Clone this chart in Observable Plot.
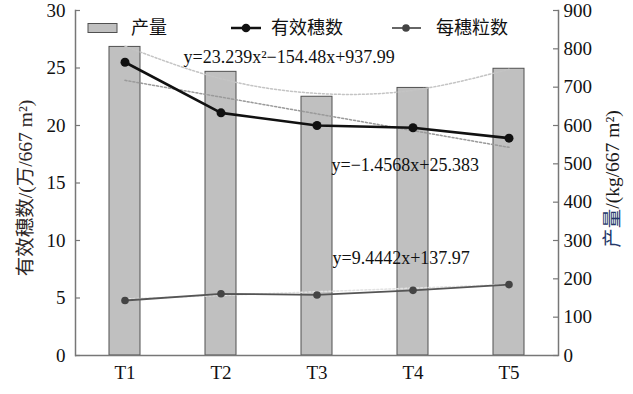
<!DOCTYPE html>
<html>
<head>
<meta charset="utf-8">
<script src="https://cdn.jsdelivr.net/npm/d3@7"></script>
<script src="https://cdn.jsdelivr.net/npm/@observablehq/plot@0.6"></script>
<style>
  html, body { margin: 0; padding: 0; background: #fff; }
</style>
</head>
<body>
<div id="chart"></div>
<script>
// ---- data ----
const categories = ["T1", "T2", "T3", "T4", "T5"];
const yieldValues = [805, 740, 675, 698, 748];          // 产量 kg/667 m² (right axis)
const spikeNumbers = [25.5, 21.1, 20.0, 19.8, 18.9];      // 有效穗数 万/667 m² (left axis)
const grainsPerSpike = [143.5, 161, 158, 170, 185];       // 每穗粒数 (right axis)
const quadCoef = [23.239, -154.48, 937.99];               // 产量 trend
const spikeTrendCoef = [-1.4568, 25.383];                 // 有效穗数 trend
const grainTrendCoef = [9.4442, 137.97];                  // 每穗粒数 trend
const leftTicks = [0, 5, 10, 15, 20, 25, 30];
const rightTicks = [0, 100, 200, 300, 400, 500, 600, 700, 800, 900];
const eqQuad = "y=23.239x²−154.48x+937.99";
const eqSpike = "y=−1.4568x+25.383";
const eqGrain = "y=9.4442x+137.97";
const legendLabels = ["产量", "有效穗数", "每穗粒数"];

const ratio = 900 / 30; // left axis units -> right axis units

const table = categories.map((c, i) => ({
  cat: c,
  n: i + 1,
  yield: yieldValues[i],
  spike: spikeNumbers[i],
  grain: grainsPerSpike[i]
}));

const quad = n => quadCoef[0] * n * n + quadCoef[1] * n + quadCoef[2];
const spikeFit = n => spikeTrendCoef[0] * n + spikeTrendCoef[1];
const grainFit = n => grainTrendCoef[0] * n + grainTrendCoef[1];

const W = 633, H = 394, mL = 75, mR = 75, mT = 10, mB = 39;
const innerW = W - mL - mR;
const serif = "'Liberation Serif', 'Noto Sans CJK SC', serif";

function overlay() {
  const g = d3.create("svg:g").attr("font-family", serif).attr("fill", "#111").attr("text-anchor", "start");
  // legend
  const ly = 28;
  g.append("rect").attr("x", 88).attr("y", ly - 4.5).attr("width", 29).attr("height", 9)
    .attr("fill", "#c0c0c0").attr("stroke", "#505050").attr("stroke-width", 1);
  g.append("text").attr("x", 131).attr("y", ly).attr("dy", "0.36em").attr("font-size", 18).attr("text-anchor", "start").text(legendLabels[0]);
  g.append("line").attr("x1", 231).attr("x2", 261).attr("y1", ly).attr("y2", ly)
    .attr("stroke", "#111").attr("stroke-width", 2.5);
  g.append("circle").attr("cx", 246).attr("cy", ly).attr("r", 4.3).attr("fill", "#111");
  g.append("text").attr("x", 271).attr("y", ly).attr("dy", "0.36em").attr("font-size", 18).attr("text-anchor", "start").text(legendLabels[1]);
  g.append("line").attr("x1", 392).attr("x2", 421).attr("y1", ly).attr("y2", ly)
    .attr("stroke", "#555").attr("stroke-width", 1.8);
  g.append("circle").attr("cx", 406).attr("cy", ly).attr("r", 3.8).attr("fill", "#444");
  g.append("text").attr("x", 436).attr("y", ly).attr("dy", "0.36em").attr("font-size", 18).attr("text-anchor", "start").text(legendLabels[2]);

  // left axis title
  const lt = g.append("text").attr("transform", "translate(25,188) rotate(-90)")
    .attr("text-anchor", "middle").attr("dy", "0.36em").attr("font-size", 19.5).attr("fill", "#2e2626");
  lt.append("tspan").text("有效穗数/(万/667 m²)");
  // right axis title
  const rt = g.append("text").attr("transform", "translate(612,179) rotate(-90)")
    .attr("text-anchor", "middle").attr("dy", "0.36em").attr("font-size", 19.5).attr("fill", "#1a1a1a");
  rt.append("tspan").attr("fill", "#24386a").text("产量");
  rt.append("tspan").text("/(kg/667 m²)");
  return g.node();
}

const chart = Plot.plot({
  width: W,
  height: H,
  marginTop: mT,
  marginBottom: mB,
  marginLeft: mL,
  marginRight: mR,
  style: { fontFamily: serif, fontSize: "19px", color: "#111", background: "#fff", overflow: "visible" },
  x: { domain: categories, paddingInner: 0.68, paddingOuter: 0.34, label: null },
  y: { domain: [0, 900], label: null },
  marks: [
    Plot.barY(table, { x: "cat", y: "yield", fill: "#c0c0c0", stroke: "#505050", strokeWidth: 1 }),
    // trend lines
    Plot.line(table, { x: "cat", y: d => quad(d.n), curve: "natural", stroke: "#c4c4c4", strokeWidth: 1.5, strokeDasharray: "2,2" }),
    Plot.line(table, { x: "cat", y: d => spikeFit(d.n) * ratio, stroke: "#9a9a9a", strokeWidth: 1.5, strokeDasharray: "2,2" }),
    Plot.line(table, { x: "cat", y: d => grainFit(d.n), stroke: "#e2e2e2", strokeWidth: 1.5, strokeDasharray: "2,2" }),
    // series lines
    Plot.line(table, { x: "cat", y: "grain", stroke: "#555", strokeWidth: 1.8 }),
    Plot.dot(table, { x: "cat", y: "grain", r: 3.8, fill: "#444" }),
    Plot.line(table, { x: "cat", y: d => d.spike * ratio, stroke: "#111", strokeWidth: 2.6 }),
    Plot.dot(table, { x: "cat", y: d => d.spike * ratio, r: 4.5, fill: "#111" }),
    // equations
    Plot.text([eqQuad], { frameAnchor: "top-left", dx: 108, dy: 47, textAnchor: "start", lineAnchor: "middle", fontSize: 18, fill: "#111" }),
    Plot.text([eqSpike], { frameAnchor: "top-left", dx: 256, dy: 155, textAnchor: "start", lineAnchor: "middle", fontSize: 18, fill: "#111" }),
    Plot.text([eqGrain], { frameAnchor: "top-left", dx: 257, dy: 248, textAnchor: "start", lineAnchor: "middle", fontSize: 18, fill: "#111" }),
    // axes
    Plot.axisY(leftTicks.map(v => v * ratio), { anchor: "left", tickFormat: v => v / ratio, tickSize: 0, tickPadding: 10, fontSize: 19 }),
    Plot.axisY(rightTicks, { anchor: "right", tickSize: 0, tickPadding: 5, fontSize: 19 }),
    Plot.axisX({ anchor: "bottom", tickSize: 0, tickPadding: 10, fontSize: 19 }),
    Plot.tickY(leftTicks.map(v => v * ratio), { y: d => d, insetRight: innerW - 5, stroke: "#777", strokeWidth: 1.2 }),
    Plot.tickY(rightTicks, { y: d => d, insetLeft: innerW - 5, stroke: "#777", strokeWidth: 1.2 }),
    Plot.frame({ anchor: "left", stroke: "#777", strokeWidth: 1.5 }),
    Plot.frame({ anchor: "right", stroke: "#777", strokeWidth: 1.5 }),
    Plot.ruleY([0], { stroke: "#777", strokeWidth: 1.5 }),
    overlay
  ]
});

document.getElementById("chart").append(chart);
</script>
</body>
</html>
